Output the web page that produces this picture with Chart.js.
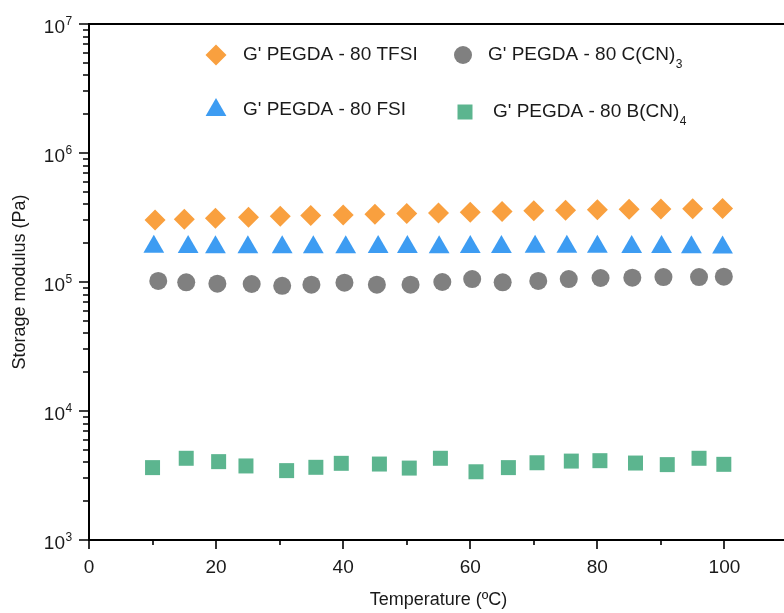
<!DOCTYPE html>
<html lang="en">
<head>
<meta charset="UTF-8">
<title>Storage modulus vs temperature</title>
<script src="https://cdn.jsdelivr.net/npm/chart.js"></script>
<style>
  html, body { margin: 0; padding: 0; background: #fff; overflow: hidden; }
  #wrap { width: 800px; height: 613px; }
</style>
</head>
<body>
<div id="wrap"><canvas id="chart" width="800" height="613"></canvas></div>
<script>
// temperatures (°C) and storage modulus G' (Pa) per electrolyte
const tfsiT = [10.4, 15, 19.9, 25.1, 30.1, 34.9, 40, 45, 50, 55, 60, 65, 70, 75, 80, 85, 90, 95, 99.7];
const tfsiG = [302000, 306000, 312000, 318000, 323000, 327000, 331000, 335000, 339000, 343000, 347000, 352000, 356000, 360000, 363000, 366000, 368000, 370000, 371000];

const fsiT = [10.2, 15.6, 19.9, 25, 30.4, 35.3, 40.4, 45.5, 50.1, 55.1, 60, 64.9, 70.2, 75.2, 80, 85.4, 90.1, 94.8, 99.7];
const fsiG = [188000, 187000, 186000, 186000, 186000, 186000, 186000, 187000, 187000, 186000, 187000, 187000, 188000, 188000, 188000, 187000, 187000, 186000, 185000];

const ccnT = [10.9, 15.3, 20.2, 25.6, 30.4, 35, 40.2, 45.3, 50.6, 55.6, 60.3, 65.1, 70.7, 75.5, 80.5, 85.5, 90.4, 96, 99.9];
const ccnG = [102000, 99500, 97000, 96500, 93500, 95300, 98800, 95300, 95300, 100000, 105400, 99500, 102000, 105400, 107400, 108000, 109300, 109300, 110000];

const bcnT = [10, 15.3, 20.4, 24.7, 31.1, 35.7, 39.7, 45.7, 50.4, 55.3, 60.9, 66, 70.5, 75.9, 80.4, 86, 91, 96, 99.9];
const bcnG = [3640, 4300, 4050, 3750, 3450, 3660, 3930, 3880, 3610, 4300, 3380, 3640, 3970, 4090, 4120, 3950, 3840, 4300, 3860];

const seriesNames = ["G' PEGDA - 80 TFSI", "G' PEGDA - 80 FSI", "G' PEGDA - 80 C(CN)", "G' PEGDA - 80 B(CN)"];
const seriesSubs = ['', '', '3', '4'];
const seriesColors = ['#F9A03F', '#3D9CF2', '#808080', '#5CB58F'];
const seriesShapes = ['rectRot', 'triangle', 'circle', 'rect'];
const seriesRadius = [10.5, 12, 9, 10.6];

const xTicks = [0, 20, 40, 60, 80, 100];
const xMinorTicks = [10, 30, 50, 70, 90];
const yTicks = [1e3, 1e4, 1e5, 1e6, 1e7];
const xTitle = 'Temperature (\u00baC)';
const yTitle = 'Storage modulus (Pa)';

const FONT = '"Liberation Sans", Arial, sans-serif';

function pts(xs, ys) {
    return xs.map((x, i) => ({ x: x, y: ys[i] }));
}

const seriesData = [pts(tfsiT, tfsiG), pts(fsiT, fsiG), pts(ccnT, ccnG), pts(bcnT, bcnG)];

// axes box, tick marks, tick labels, titles and legend
const decorations = {
    id: 'decorations',
    afterDraw(chart) {
        const ctx = chart.ctx;
        const a = chart.chartArea;
        const xs = chart.scales.x;
        const ys = chart.scales.y;
        ctx.save();
        ctx.strokeStyle = '#000';
        ctx.lineWidth = 2;
        ctx.strokeRect(a.left, a.top, a.right - a.left, a.bottom - a.top);

        // x ticks
        ctx.lineWidth = 1.6;
        ctx.beginPath();
        xTicks.forEach(v => {
            const px = Math.round(xs.getPixelForValue(v));
            ctx.moveTo(px, a.bottom); ctx.lineTo(px, a.bottom + 9);
        });
        xMinorTicks.forEach(v => {
            const px = Math.round(xs.getPixelForValue(v));
            ctx.moveTo(px, a.bottom); ctx.lineTo(px, a.bottom + 5);
        });
        // y ticks (log, major + minor)
        yTicks.forEach((v, i) => {
            const py = Math.round(ys.getPixelForValue(v));
            ctx.moveTo(a.left, py); ctx.lineTo(a.left - 10, py);
            if (i < yTicks.length - 1) {
                for (let k = 2; k <= 9; k++) {
                    const pm = Math.round(ys.getPixelForValue(v * k));
                    ctx.moveTo(a.left, pm); ctx.lineTo(a.left - 6, pm);
                }
            }
        });
        ctx.stroke();

        ctx.fillStyle = '#1a1a1a';
        ctx.font = '19px ' + FONT;
        ctx.textAlign = 'center';
        ctx.textBaseline = 'alphabetic';
        xTicks.forEach(v => {
            ctx.fillText(String(v), xs.getPixelForValue(v), a.bottom + 33);
        });

        yTicks.forEach(v => {
            const py = ys.getPixelForValue(v);
            const exp = String(Math.round(Math.log10(v)));
            ctx.font = '19px ' + FONT;
            ctx.textAlign = 'right';
            ctx.fillText('10', a.left - 24, py + 8.5);
            ctx.font = '12px ' + FONT;
            ctx.textAlign = 'left';
            ctx.fillText(exp, a.left - 23.5, py + 1);
        });

        // axis titles
        ctx.font = '18px ' + FONT;
        ctx.textAlign = 'center';
        ctx.textBaseline = 'middle';
        ctx.fillText(xTitle, (a.left + a.right) / 2, 600);
        ctx.save();
        ctx.translate(20, (a.top + a.bottom) / 2);
        ctx.rotate(-Math.PI / 2);
        ctx.fillText(yTitle, 0, 0);
        ctx.restore();

        // legend, 2 x 2 grid
        const slots = [
            { mx: 216, my: 55, tx: 243 },
            { mx: 216, my: 110, tx: 243 },
            { mx: 463, my: 55, tx: 488 },
            { mx: 465, my: 112, tx: 493 }
        ];
        slots.forEach((s, i) => {
            ctx.fillStyle = seriesColors[i];
            Chart.helpers.drawPoint(ctx, {
                pointStyle: seriesShapes[i], radius: seriesRadius[i], rotation: 0, borderWidth: 0
            }, s.mx, s.my);
            ctx.fillStyle = '#1a1a1a';
            ctx.font = '19px ' + FONT;
            ctx.textAlign = 'left';
            ctx.textBaseline = 'middle';
            ctx.fillText(seriesNames[i], s.tx, s.my);
            if (seriesSubs[i]) {
                const w = ctx.measureText(seriesNames[i]).width;
                ctx.font = '12px ' + FONT;
                ctx.fillText(seriesSubs[i], s.tx + w + 0.5, s.my + 10);
            }
        });
        ctx.restore();
    }
};

const chart = new Chart(document.getElementById('chart').getContext('2d'), {
    type: 'scatter',
    data: {
        datasets: seriesData.map((d, i) => ({
            label: seriesNames[i] + seriesSubs[i],
            data: d,
            pointStyle: seriesShapes[i],
            pointRadius: seriesRadius[i],
            pointHoverRadius: seriesRadius[i],
            backgroundColor: seriesColors[i],
            borderColor: seriesColors[i],
            borderWidth: 0,
            showLine: false
        }))
    },
    options: {
        responsive: false,
        animation: false,
        devicePixelRatio: 1,
        layout: { padding: { top: 24, right: 10, left: 0, bottom: 0 } },
        plugins: {
            legend: { display: false },
            tooltip: { enabled: false }
        },
        scales: {
            x: {
                type: 'linear', min: 0, max: 110,
                grid: { display: false }, border: { display: false },
                ticks: { display: false },
                afterFit(s) { s.height = 73; }
            },
            y: {
                type: 'logarithmic', min: 1e3, max: 1e7,
                grid: { display: false }, border: { display: false },
                ticks: { display: false },
                afterFit(s) { s.width = 89; }
            }
        }
    },
    plugins: [decorations]
});
</script>
</body>
</html>
